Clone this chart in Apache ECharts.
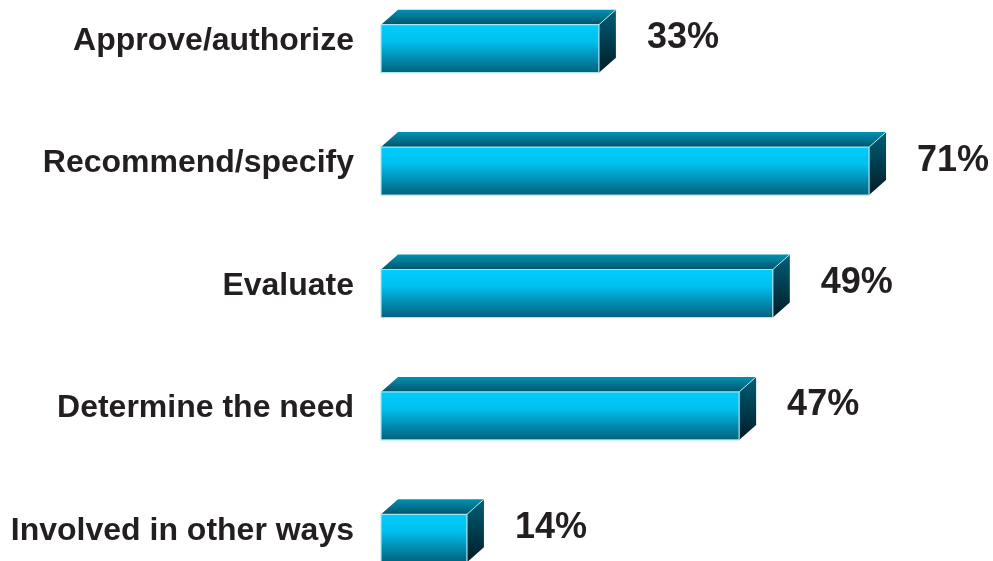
<!DOCTYPE html>
<html>
<head>
<meta charset="utf-8">
<script src="https://cdn.jsdelivr.net/npm/echarts@6/dist/echarts.min.js"></script>
<style>
html,body{margin:0;padding:0;background:#fff;}
#chart{width:993px;height:561px;}
</style>
</head>
<body>
<div id="chart"></div>
<script>
// Categories (top to bottom)
var categories = ['Approve/authorize', 'Recommend/specify', 'Evaluate', 'Determine the need', 'Involved in other ways'];
// Percentages printed next to the bars
var shareLabels = [33, 71, 49, 47, 14];
// Bar lengths as drawn in the picture (same % scale as the 71% bar)
var barLengths = [31.7, 71, 57.0, 52.1, 12.5];

var chart = echarts.init(document.getElementById('chart'), null, {renderer: 'canvas'});

var DX = 17, DY = 15, FRONT_H = 48;

function renderBox(params, api) {
  var idx = params.dataIndex;
  var v = api.value(1);
  var c = api.coord([0, api.value(0)]);
  var e = api.coord([v, api.value(0)]);
  var x0 = c[0], x1 = e[0];
  var boxTop = c[1] - (FRONT_H + DY) / 2;
  var fTop = boxTop + DY, fBot = fTop + FRONT_H;
  var edge = '#a8e4f2';
  return {
    type: 'group',
    children: [
      { // top face
        type: 'polygon',
        shape: {points: [[x0, fTop], [x0 + DX, boxTop], [x1 + DX, boxTop], [x1, fTop]]},
        style: {
          fill: new echarts.graphic.LinearGradient(0, 0, 0, 1, [
            {offset: 0, color: '#0093b4'}, {offset: 1, color: '#00546b'}
          ]),
          stroke: null
        }
      },
      { // side face
        type: 'polygon',
        shape: {points: [[x1, fTop], [x1 + DX, boxTop], [x1 + DX, boxTop + FRONT_H], [x1, fBot]]},
        style: {
          fill: new echarts.graphic.LinearGradient(0, 0, 0, 1, [
            {offset: 0, color: '#005f78'}, {offset: 1, color: '#001c26'}
          ]),
          stroke: null
        }
      },
      { // front face
        type: 'rect',
        shape: {x: x0, y: fTop, width: x1 - x0, height: FRONT_H},
        style: {
          fill: new echarts.graphic.LinearGradient(0, 0, 0, 1, [
            {offset: 0, color: '#00cdff'}, {offset: 0.35, color: '#00c0ee'},
            {offset: 1, color: '#005f7a'}
          ]),
          stroke: edge, lineWidth: 1.2
        }
      },
      { // diagonal edge top-right
        type: 'line',
        shape: {x1: x1, y1: fTop, x2: x1 + DX, y2: boxTop},
        style: {stroke: edge, lineWidth: 1}
      },
      { // value label
        type: 'text',
        style: {
          text: shareLabels[idx] + '%',
          x: x1 + DX + 31, y: c[1] - 3,
          align: 'left', verticalAlign: 'middle',
          font: 'bold 36px "Liberation Sans", Arial, sans-serif',
          fill: '#231f20'
        }
      }
    ]
  };
}

chart.setOption({
  animation: false,
  grid: {left: 381, top: -20, height: 612, width: 549.9, containLabel: false, outerBoundsMode: 'none'},
  xAxis: {type: 'value', min: 0, max: 80, show: false},
  yAxis: {
    type: 'category', data: categories, inverse: true,
    axisLine: {show: false}, axisTick: {show: false}, splitLine: {show: false},
    axisLabel: {
      margin: 27, color: '#231f20', fontSize: 32, fontWeight: 'bold',
      fontFamily: '"Liberation Sans", Arial, sans-serif'
    }
  },
  series: [{
    type: 'custom',
    renderItem: renderBox,
    encode: {x: 1, y: 0},
    data: categories.map(function (c, i) { return [i, barLengths[i]]; }),
    clip: false
  }]
});
</script>
</body>
</html>
